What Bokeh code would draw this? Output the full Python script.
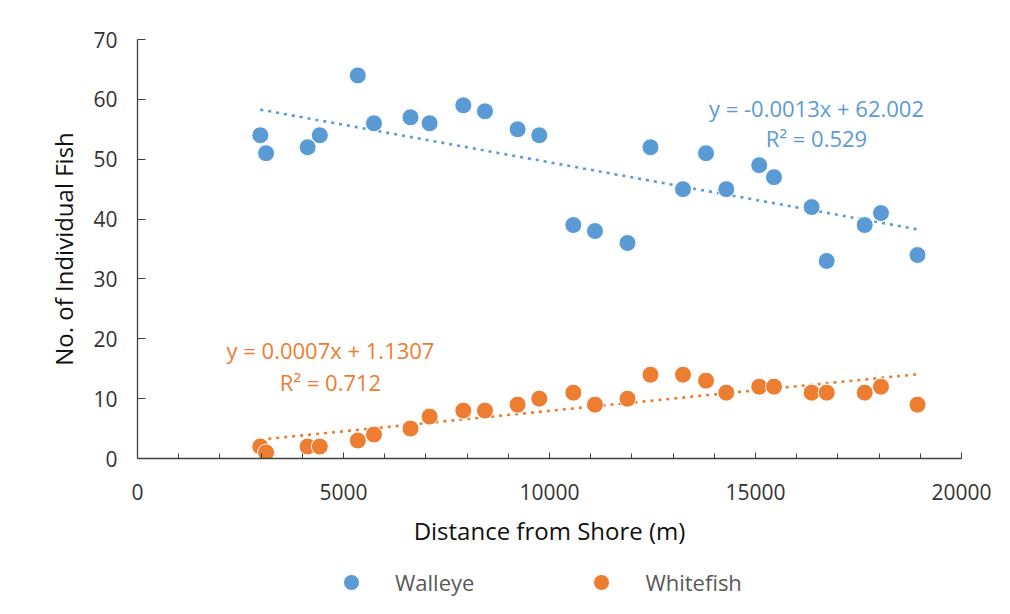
import numpy as np
from bokeh.plotting import figure
from bokeh.layouts import column
from bokeh.models import (Label, Legend, LegendItem, SingleIntervalTicker, Range1d)
from bokeh.embed import file_html
from bokeh.resources import INLINE

# ---- data ----
distance = [2981, 3121, 4129, 4425, 5347, 5740, 6626, 7090, 7908, 8434, 9226, 9752,
            10578, 11104, 11893, 12451, 13240, 13799, 14291, 15090, 15449, 16362,
            16728, 17650, 18046, 18932]
walleye = [54, 51, 52, 54, 64, 56, 57, 56, 59, 58, 55, 54, 39, 38, 36, 52, 45, 51,
           45, 49, 47, 42, 33, 39, 41, 34]
whitefish = [2, 1, 2, 2, 3, 4, 5, 7, 8, 8, 9, 10, 11, 9, 10, 14, 14, 13, 11, 12, 12,
             11, 11, 11, 12, 9]
series_names = ["Walleye", "Whitefish"]
walleye_eq = ["y = -0.0013x + 62.002", "R² = 0.529"]
whitefish_eq = ["y = 0.0007x + 1.1307", "R² = 0.712"]
x_title = "Distance from Shore (m)"
y_title = "No. of Individual Fish"

BLUE = "#5B9BD5"
ORANGE = "#ED7D31"
FONT = "Open Sans"
colors = [BLUE, ORANGE]

p = figure(width=1010, height=560, output_backend="svg", toolbar_location=None,
           x_range=Range1d(0, 20000), y_range=Range1d(0, 70),
           min_border_left=137, min_border_right=49, min_border_top=39,
           min_border_bottom=102)
p.grid.visible = False
p.outline_line_color = None
p.background_fill_color = "white"
p.border_fill_color = "white"

# axes
p.xaxis.ticker = SingleIntervalTicker(interval=5000, num_minor_ticks=5)
p.yaxis.ticker = SingleIntervalTicker(interval=10, num_minor_ticks=0)
for ax in (p.xaxis, p.yaxis):
    ax.axis_line_color = "#404040"
    ax.axis_line_width = 1.3
    ax.major_tick_line_color = "#404040"
    ax.minor_tick_line_color = "#404040"
    ax.major_tick_out = 0
    ax.minor_tick_out = 0
    ax.major_label_text_font = FONT
    ax.major_label_text_font_size = "21px"
    ax.major_label_text_color = "#333333"
    ax.axis_label_text_font = FONT
    ax.axis_label_text_font_size = "24px"
    ax.axis_label_text_font_style = "normal"
    ax.axis_label_text_color = "#111111"
p.xaxis.major_tick_in = 6
p.xaxis.minor_tick_in = 5
p.yaxis.major_tick_in = 8
p.yaxis.minor_tick_in = 0
p.xaxis.major_label_standoff = 25
p.yaxis.major_label_standoff = 20
p.xaxis.axis_label = x_title
p.yaxis.axis_label = y_title
p.xaxis.axis_label_standoff = 11
p.yaxis.axis_label_standoff = 10

x = np.array(distance, dtype=float)
for ys, col in ((walleye, BLUE), (whitefish, ORANGE)):
    ys = np.array(ys, dtype=float)
    m, b = np.polyfit(x, ys, 1)
    xs = np.array([x.min(), x.max()])
    p.line(xs, m * xs + b, line_color=col, line_width=2.6, line_dash="3 5")
    p.scatter(x, ys, size=17, fill_color=col, line_color="white", line_width=1)

def add_eq(lines, cx, cy1, cy2, col):
    for txt, cy in zip(lines, (cy1, cy2)):
        p.add_layout(Label(x=cx, y=cy, x_units="screen", y_units="screen", text=txt,
                           text_font=FONT, text_font_size="22px", text_color=col,
                           text_align="center", text_baseline="middle"))

# label centres in screen units relative to the frame's bottom-left
add_eq(walleye_eq, 679, 351, 320.5, BLUE)
add_eq(whitefish_eq, 193, 108.5, 77, ORANGE)

# ---- legend strip below the chart (frame aligned with the chart's frame) ----
leg = figure(width=1010, height=54, output_backend="svg", toolbar_location=None,
             x_range=Range1d(0, 1), y_range=Range1d(0, 1), min_border=0)
leg.axis.visible = False
leg.grid.visible = False
leg.outline_line_color = None
items = []
for name, col in zip(series_names, colors):
    # hidden proxy glyph (outside the visible range) used only for the legend swatch
    r = leg.scatter(x=[-5], y=[-5], size=17, fill_color=col, line_color="white",
                    line_width=1)
    items.append(LegendItem(label=name, renderers=[r]))
legend = Legend(items=items, orientation="horizontal", location=(194, 12),
                label_text_font=FONT, label_text_font_size="22px",
                label_text_color="#595959", label_standoff=24, glyph_width=40,
                glyph_height=40, spacing=107, border_line_color=None,
                background_fill_alpha=0, padding=0, margin=0)
leg.add_layout(legend, "center")

open("out.html", "w").write(file_html(column(p, leg, spacing=0), INLINE))
